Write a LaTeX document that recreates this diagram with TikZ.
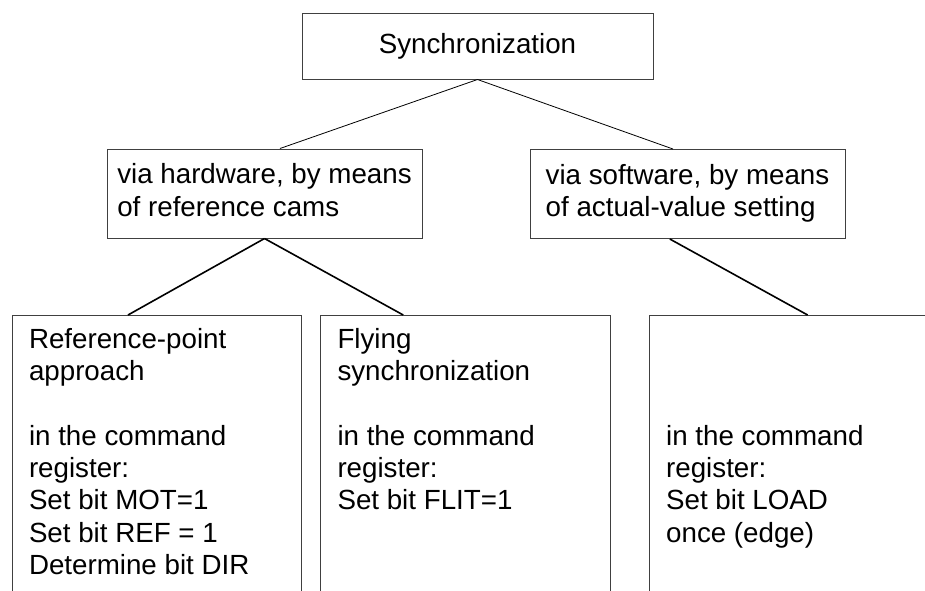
\documentclass[tikz,border=0pt]{standalone}
\usepackage{fontspec}
\setmainfont{Liberation Sans}
\usetikzlibrary{calc}

\tikzset{
	box/.style={draw=black!75, line width=0.75pt, inner sep=0pt, align=left,
		font=\fontsize{20.8}{24.2}\selectfont},
	lowbox/.style={box, anchor=north west, inner xsep=11pt, inner ysep=7.8pt},
	thinlink/.style={line width=0.6pt},
	thicklink/.style={line width=1.2pt}
}

\begin{document}
\begin{tikzpicture}[x=0.75pt, y=-0.75pt]

	% frame
	\useasboundingbox (0,0) rectangle (925,590);
	\clip (0,0) rectangle (925,590);

	% top
	\node[box, minimum width=263.25pt, minimum height=49.5pt] (sync) at (477.5,46) {Synchronization};

	% middle
	\node[box, minimum width=236.25pt, minimum height=66.75pt] (hw) at (264.5,193.5) {\strut via hardware, by means\\of reference cams\strut};
	\node[box, minimum width=236.25pt, minimum height=66.75pt] (sw) at (687.5,194) {\strut via software, by means\\of actual-value setting\strut};

	% bottom
	\node[lowbox, minimum width=216.75pt] (ref) at (12,315) {\parbox[t][225pt][t]{192pt}{\strut Reference-point\\approach\\[\baselineskip]in the command\\register:\\Set bit MOT=1\\Set bit REF = 1\\Determine bit DIR}};
	\node[lowbox, minimum width=217.5pt] (fly) at (320,315) {\parbox[t][225pt][t]{192pt}{\strut Flying\\synchronization\\[\baselineskip]in the command\\register:\\Set bit FLIT=1}};
	\node[lowbox, minimum width=225pt] (load) at (649,315) {\parbox[t][225pt][t]{200pt}{\strut\\[2\baselineskip]in the command\\register:\\Set bit LOAD\\once (edge)}};

	% links
	\draw[thinlink] (sync.south) -- ($(hw.north west)!0.549!(hw.north east)$);
	\draw[thinlink] (sync.south) -- ($(sw.north west)!0.454!(sw.north east)$);
	\draw[thicklink] (hw.south) -- ($(ref.north west)!0.40!(ref.north east)$);
	\draw[thicklink] (hw.south) -- ($(fly.north west)!0.286!(fly.north east)$);
	\draw[thicklink] ($(sw.south west)!0.444!(sw.south east)$) -- ($(load.north west)!0.527!(load.north east)$);

\end{tikzpicture}
\end{document}
